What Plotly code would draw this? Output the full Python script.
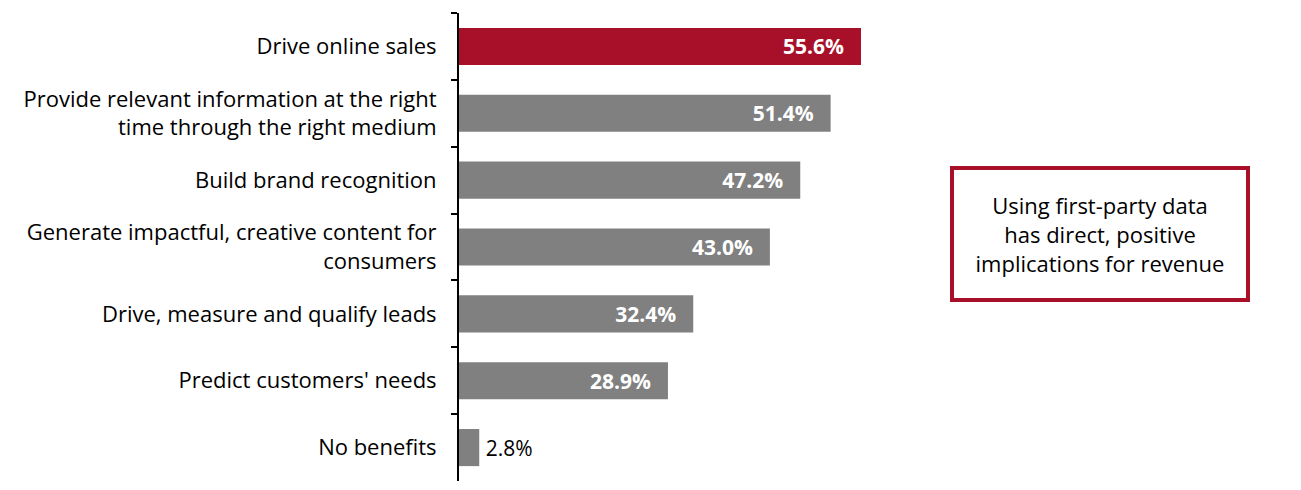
import plotly.graph_objects as go

categories = [
    "Drive online sales",
    "Provide relevant information at the right<br>time through the right medium",
    "Build brand recognition",
    "Generate impactful, creative content for<br>consumers",
    "Drive, measure and qualify leads",
    "Predict customers' needs",
    "No benefits",
]
values = [55.6, 51.4, 47.2, 43.0, 32.4, 28.9, 2.8]
bar_colors = ["#A8102A"] + ["#808080"] * 6
label_positions = ["inside"] * 6 + ["outside"]
callout_text = "Using first-party data<br>has direct, positive<br>implications for revenue"

FONT = "Open Sans"
W, H = 1301, 490
ML, MT, MB = 459, 13, 9
XMAX = 100
PX_PER_UNIT = 7.23
plot_w = XMAX * PX_PER_UNIT
MR = W - ML - plot_w

texts = [f"{v:.1f}%\u2002\u2009" if p == "inside" else f"\u2009{v:.1f}%" for v, p in zip(values, label_positions)]

fig = go.Figure(go.Bar(
    x=values, y=categories, orientation="h",
    marker=dict(color=bar_colors, line=dict(width=0)),
    text=texts, textposition=label_positions,
    insidetextanchor="end",
    insidetextfont=dict(family=FONT, size=21, color="white", weight="bold"),
    outsidetextfont=dict(family=FONT, size=21, color="black"),
    cliponaxis=False,
    hoverinfo="skip",
))

fig.update_layout(
    width=W, height=H,
    margin=dict(l=ML, r=MR, t=MT, b=MB),
    plot_bgcolor="white", paper_bgcolor="white",
    bargap=0.445,
    showlegend=False,
    font=dict(family=FONT, size=22, color="black"),
    xaxis=dict(range=[0, XMAX], visible=False, fixedrange=True),
    yaxis=dict(
        autorange="reversed", showline=True, linecolor="black", linewidth=2,
        ticks="outside", ticklen=6, tickcolor="black", tickwidth=2,
        tickson="boundaries", showgrid=False, ticklabelstandoff=16,
        tickfont=dict(family=FONT, size=22, color="black"),
    ),
)

fig.add_annotation(
    x=(1100 - ML) / plot_w, y=(H - MB - 234) / (H - MT - MB),
    xref="paper", yref="paper", xanchor="center", yanchor="middle",
    text=callout_text, showarrow=False, align="center",
    font=dict(family=FONT, size=22, color="black"),
    bordercolor="#A8102A", borderwidth=4, borderpad=0,
    width=292, height=128, bgcolor="white",
)

fig.write_html("out.html")
